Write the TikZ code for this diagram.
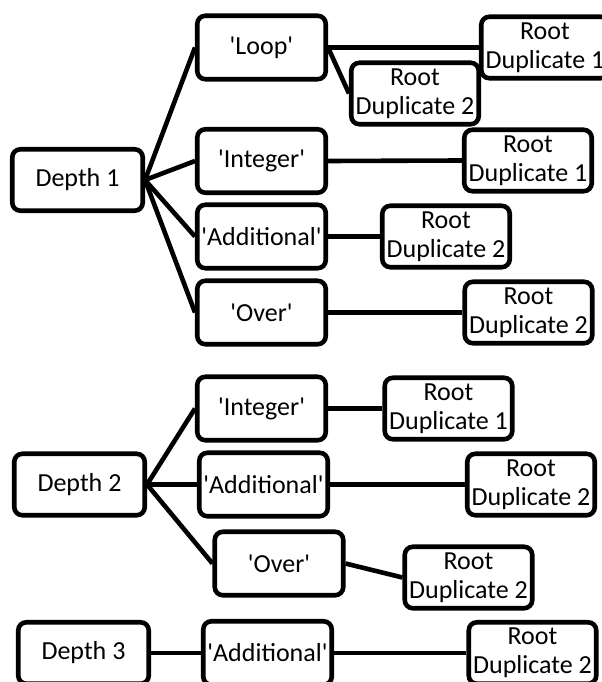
\documentclass[tikz,border=0pt]{standalone}
\usepackage{fontspec}
\setmainfont{Carlito}
\newcommand{\qw}[1]{\textquotesingle#1\textquotesingle}

\begin{document}
\begin{tikzpicture}[x=0.025cm,y=-0.025cm,
  box/.style={draw,fill=white,line width=0.115cm,rounded corners=0.2cm,inner sep=0pt,
    align=center,font=\fontsize{18.5}{20.6}\selectfont},
  depthbox/.style={box,minimum width=3.26cm,minimum height=1.535cm},
  wordbox/.style={box,minimum width=3.21cm,minimum height=1.585cm},
  rootbox/.style={box,minimum width=3.185cm,minimum height=1.535cm},
  link/.style={line width=0.115cm}]
\useasboundingbox (0,0) rectangle (601,682);
%depth 1
\node[depthbox] (d1) at (77.5,180) {Depth 1};
\node[wordbox] (loop) at (261.5,47.5) {\qw{Loop}};
\node[wordbox] (int1) at (261.5,161) {\qw{Integer}};
\node[wordbox] (add1) at (261.5,236.5) {\qw{Additional}};
\node[wordbox] (over1) at (261.5,312.5) {\qw{Over}};
\node[rootbox] (rdA) at (545,47.5) {Root\\Duplicate 1};
\node[rootbox] (rdB) at (415,93.5) {Root\\Duplicate 2};
\node[rootbox] (rdC) at (528,160.5) {Root\\Duplicate 1};
\node[rootbox] (rdD) at (446,236.5) {Root\\Duplicate 2};
\node[rootbox] (rdE) at (528.5,312.5) {Root\\Duplicate 2};
\draw[link] (d1.east) -- (loop.west);
\draw[link] (d1.east) -- (int1.west);
\draw[link] (d1.east) -- (add1.west);
\draw[link] (d1.east) -- (over1.west);
\draw[link] (loop.east) -- (rdA.west);
\draw[link] (loop.east) -- (rdB.west);
\draw[link] (int1.east) -- (rdC.west);
\draw[link] (add1.east) -- (rdD.west);
\draw[link] (over1.east) -- (rdE.west);
%depth 2
\node[depthbox] (d2) at (79.5,484.5) {Depth 2};
\node[wordbox] (int2) at (261.5,408.5) {\qw{Integer}};
\node[wordbox] (add2) at (263.5,484.5) {\qw{Additional}};
\node[wordbox] (over2) at (279,563.5) {\qw{Over}};
\node[rootbox] (rdF) at (448.5,408.5) {Root\\Duplicate 1};
\node[rootbox] (rdG) at (531,484.5) {Root\\Duplicate 2};
\node[rootbox] (rdH) at (468.5,577.5) {Root\\Duplicate 2};
\draw[link] (d2.east) -- (int2.west);
\draw[link] (d2.east) -- (add2.west);
\draw[link] (d2.east) -- (over2.west);
\draw[link] (int2.east) -- (rdF.west);
\draw[link] (add2.east) -- (rdG.west);
\draw[link] (over2.east) -- (rdH.west);
%depth 3
\node[depthbox] (d3) at (83.5,653) {Depth 3};
\node[wordbox] (add3) at (267.5,653) {\qw{Additional}};
\node[rootbox] (rdI) at (532.5,653) {Root\\Duplicate 2};
\draw[link] (d3.east) -- (add3.west);
\draw[link] (add3.east) -- (rdI.west);
\end{tikzpicture}
\end{document}
